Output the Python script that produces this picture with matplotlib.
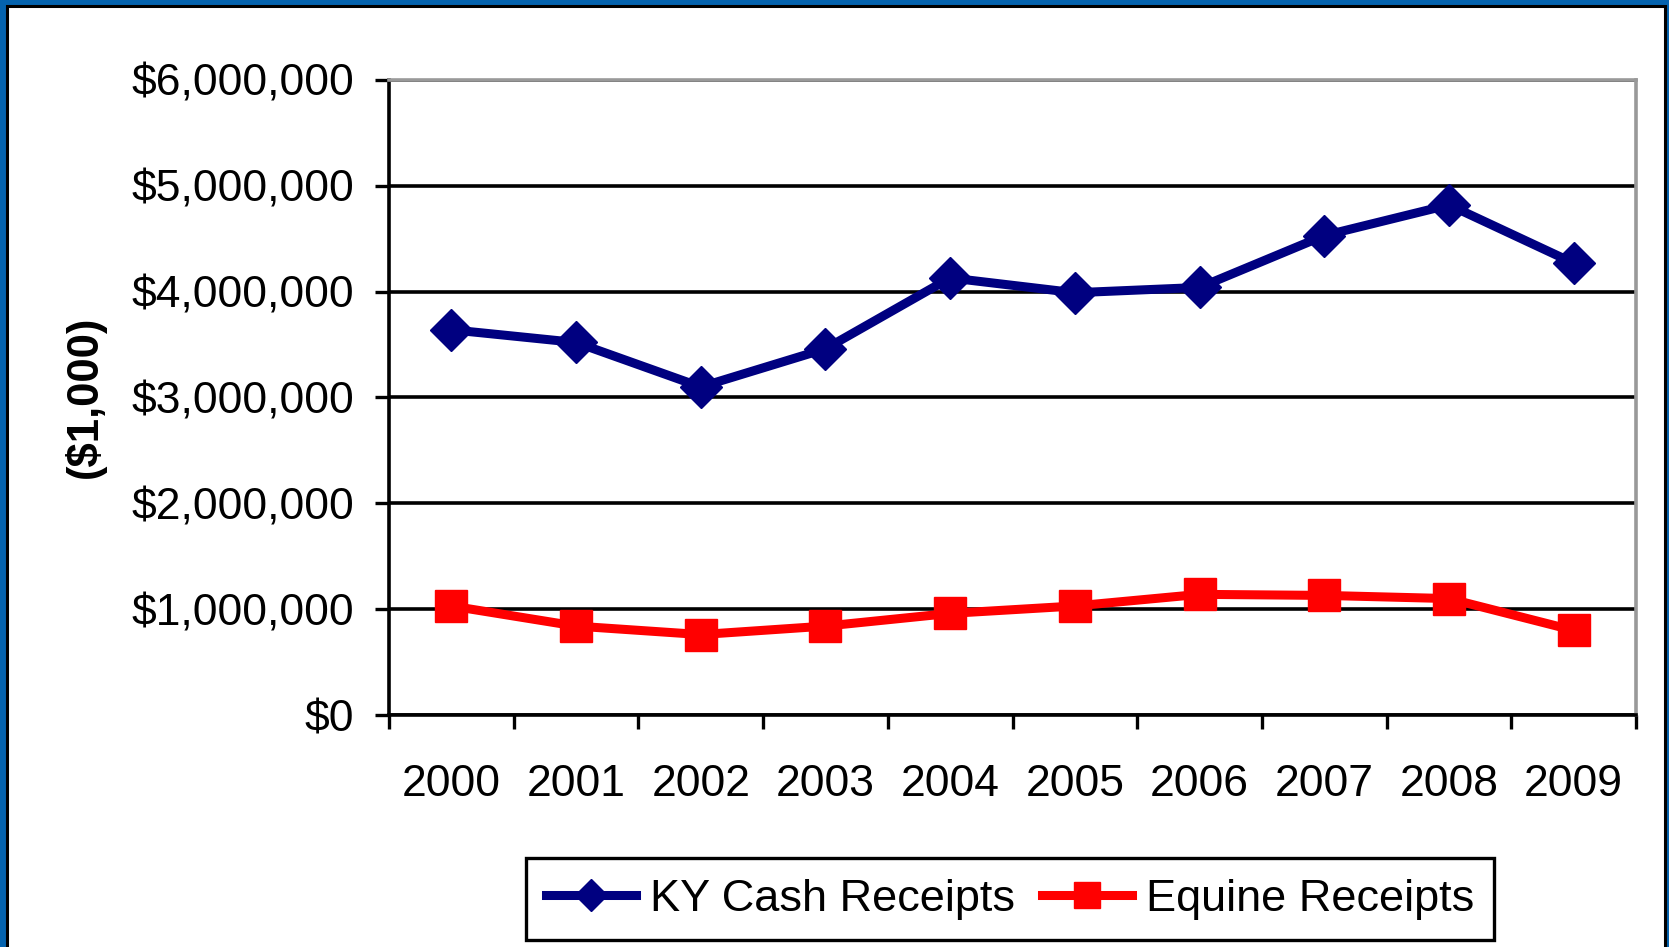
import matplotlib
matplotlib.use("Agg")
import matplotlib.pyplot as plt
from matplotlib.patches import Rectangle
from matplotlib.ticker import FuncFormatter

# Dados do grafico
anos = ["2000", "2001", "2002", "2003", "2004", "2005", "2006", "2007", "2008", "2009"]
ky_cash = [3640000, 3520000, 3100000, 3460000, 4130000, 3990000, 4040000, 4530000, 4820000, 4270000]
equine = [1030000, 840000, 760000, 840000, 960000, 1030000, 1140000, 1130000, 1100000, 800000]
y_ticks = [0, 1000000, 2000000, 3000000, 4000000, 5000000, 6000000]

plt.rcParams['font.family'] = ['Liberation Sans', 'DejaVu Sans']


def moeda(v, pos):
    return "${:,.0f}".format(v)


def gerar_grafico():
    fig = plt.figure(figsize=(16.69, 9.47), dpi=100)
    fig.patch.set_facecolor('#0563AE')
    # moldura branca com borda preta
    W, H = 1669.0, 947.0
    fig.patches.append(Rectangle((7 / W, -0.05), (1665 - 7) / W, (941 / H) + 0.05,
                                 transform=fig.transFigure, facecolor='white',
                                 edgecolor='black', linewidth=2.2, zorder=-5))

    ax = fig.add_axes([389 / W, 1 - 715 / H, (1636 - 389) / W, (715 - 80) / H])
    ax.patch.set_alpha(0)
    x = list(range(len(anos)))

    ax.plot(x, ky_cash, color='#000080', linewidth=6.5, marker='D', markersize=21,
            markeredgecolor='#000080', label='KY Cash Receipts', zorder=3, clip_on=False)
    ax.plot(x, equine, color='#FF0000', linewidth=6.5, marker='s', markersize=23,
            markeredgecolor='#FF0000', label='Equine Receipts', zorder=3, clip_on=False)

    ax.set_xlim(-0.5, len(anos) - 0.5)
    ax.set_ylim(0, 6000000)
    ax.set_yticks(y_ticks)
    ax.yaxis.set_major_formatter(FuncFormatter(moeda))
    ax.tick_params(axis='y', direction='out', length=10, width=2.4, pad=15,
                   labelsize=32, colors='black')

    # marcas entre as categorias, rotulos no centro
    ax.set_xticks([i - 0.5 for i in range(len(anos) + 1)])
    ax.set_xticklabels([])
    ax.set_xticks(x, minor=True)
    ax.set_xticklabels(anos, minor=True)
    ax.tick_params(axis='x', which='major', direction='out', length=10, width=2.4)
    ax.tick_params(axis='x', which='minor', length=0, pad=35, labelsize=32)

    ax.yaxis.grid(True, color='black', linewidth=2.6)
    ax.set_axisbelow(True)
    for lado in ['left', 'bottom']:
        ax.spines[lado].set_color('black')
        ax.spines[lado].set_linewidth(2.6)
    for lado in ['top', 'right']:
        ax.spines[lado].set_color('#999999')
        ax.spines[lado].set_linewidth(2.6)

    fig.text(85 / W, 1 - 397 / H, '($1,000)', rotation=90, ha='center', va='center',
             fontsize=31.5, fontweight='bold')

    leg = fig.legend(loc='center', bbox_to_anchor=(1010 / W, 1 - 899 / H), ncol=2,
                     fontsize=32.5, frameon=True, fancybox=False, markerscale=0.8,
                     handlelength=2.0, columnspacing=0.6, handletextpad=0.3,
                     borderpad=0.45, framealpha=1)
    leg.get_frame().set_edgecolor('black')
    leg.get_frame().set_linewidth(2.4)

    plt.savefig('out.png', dpi=100, facecolor=fig.get_facecolor())


if __name__ == "__main__":
    gerar_grafico()
